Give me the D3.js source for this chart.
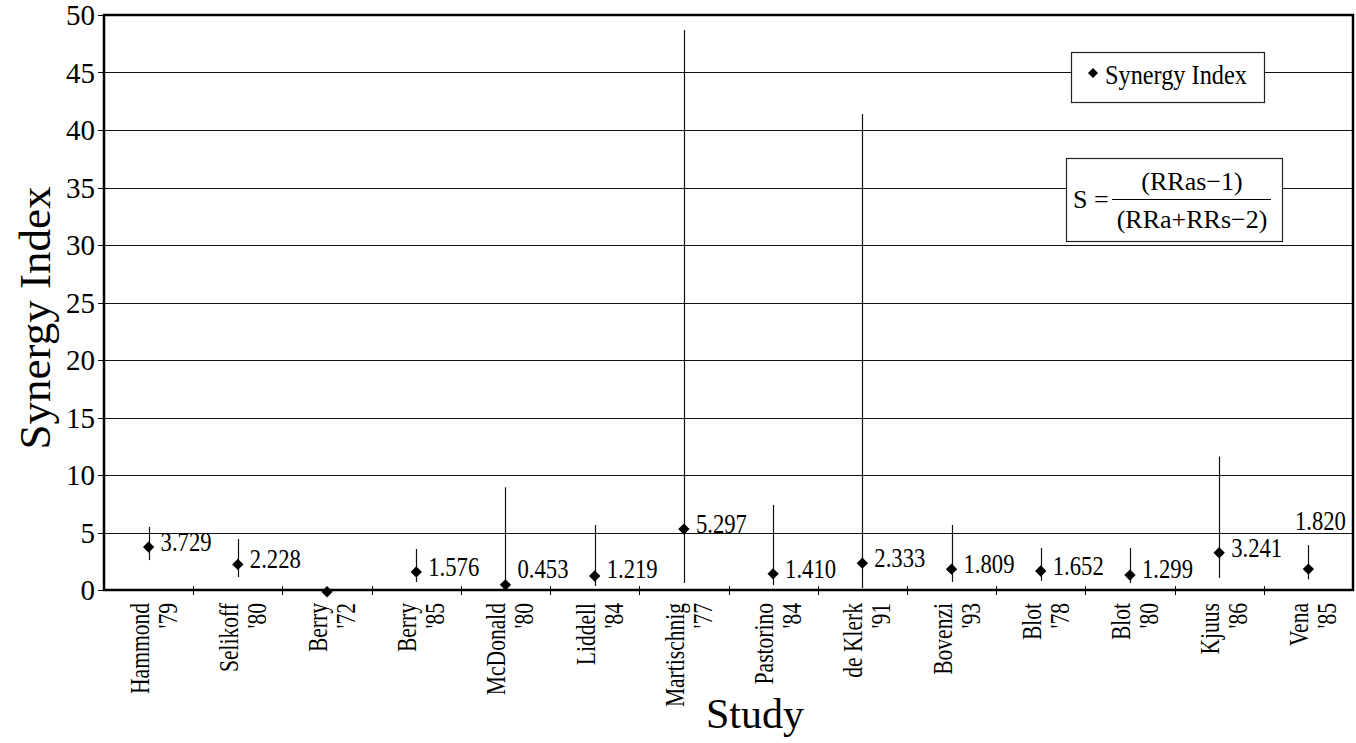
<!DOCTYPE html>
<html>
<head>
<meta charset="utf-8">
<script src="https://cdn.jsdelivr.net/npm/d3@7"></script>
<style>
  html, body { margin: 0; padding: 0; background: #fff; }
  svg { display: block; font-family: "Liberation Serif", "Times New Roman", serif; }
</style>
</head>
<body>
<svg id="chart" width="1356" height="743"></svg>
<script>
// Study names and publication years (two-line category labels)
const studies = ["Hammond", "Selikoff", "Berry", "Berry", "McDonald", "Liddell", "Martischnig",
                 "Pastorino", "de Klerk", "Bovenzi", "Blot", "Blot", "Kjuus", "Vena"];
const years   = ["'79", "'80", "'72", "'85", "'80", "'84", "'77",
                 "'84", "'91", "'93", "'78", "'80", "'86", "'85"];

// Synergy index per study, with lower / upper confidence limits
const synergy = [3.729, 2.228, -0.15, 1.576, 0.453, 1.219, 5.297,
                 1.410, 2.333, 1.809, 1.652, 1.299, 3.241, 1.820];
const lower   = [2.6, 1.13, null, 0.7, 0.2, 0.35, 0.6,
                 0.43, 0.17, 0.7, 0.8, 0.6, 1.04, 0.93];
const upper   = [5.48, 4.43, null, 3.57, 8.93, 5.65, 48.7,
                 7.4, 41.4, 5.65, 3.65, 3.65, 11.6, 3.9];
// Which points carry a value label, and where it sits
const labelled = [true, true, false, true, true, true, true,
                  true, true, true, true, true, true, true];
const labelSide = ["right", "right", "right", "right", "right", "right", "right",
                   "right", "right", "right", "right", "right", "right", "above"];

const yTicks = [0, 5, 10, 15, 20, 25, 30, 35, 40, 45, 50];

const svg = d3.select("#chart");
const plot = { left: 104, right: 1353, top: 15, bottom: 590 };

const x = d3.scaleBand()
  .domain(d3.range(studies.length))
  .range([plot.left, plot.right])
  .padding(0);
const y = d3.scaleLinear().domain([0, 50]).range([plot.bottom, plot.top]);
const cx = i => x(i) + x.bandwidth() / 2;
const fmt = d3.format(".3f");

svg.append("rect").attr("width", 1356).attr("height", 743).attr("fill", "#fff");

// horizontal gridlines
svg.append("g")
  .selectAll("line")
  .data(yTicks.filter(t => t > 0 && t < 50))
  .join("line")
  .attr("x1", plot.left).attr("x2", plot.right)
  .attr("y1", d => Math.round(y(d)) + 0.5).attr("y2", d => Math.round(y(d)) + 0.5)
  .attr("stroke", "#111").attr("stroke-width", 1);

// y axis ticks and labels
const yAxis = svg.append("g");
yAxis.selectAll("line")
  .data(yTicks)
  .join("line")
  .attr("x1", plot.left - 6).attr("x2", plot.left)
  .attr("y1", d => Math.round(y(d)) + 0.5).attr("y2", d => Math.round(y(d)) + 0.5)
  .attr("stroke", "#000").attr("stroke-width", 1);
yAxis.selectAll("text")
  .data(yTicks)
  .join("text")
  .attr("x", plot.left - 9)
  .attr("y", d => y(d))
  .attr("dy", "0.35em")
  .attr("text-anchor", "end")
  .attr("font-size", 29)
  .attr("fill", "#000")
  .text(d => d);

// x axis ticks at category boundaries
const xBounds = d3.range(studies.length + 1).map(i => plot.left + i * x.bandwidth());
svg.append("g")
  .selectAll("line")
  .data(xBounds.slice(1, -1))
  .join("line")
  .attr("x1", d => Math.round(d) + 0.5).attr("x2", d => Math.round(d) + 0.5)
  .attr("y1", plot.bottom - 4).attr("y2", plot.bottom + 5)
  .attr("stroke", "#000").attr("stroke-width", 1);

// x category labels (rotated, two lines)
const xLab = svg.append("g")
  .selectAll("g")
  .data(d3.range(studies.length))
  .join("g")
  .attr("transform", i => `translate(${cx(i)},603) rotate(-90) scale(0.77,1)`);
xLab.append("text")
  .attr("x", 0).attr("y", 0)
  .attr("text-anchor", "end")
  .attr("font-size", 28)
  .text(i => studies[i]);
xLab.append("text")
  .attr("x", 0).attr("y", 28)
  .attr("text-anchor", "end")
  .attr("font-size", 28)
  .text(i => years[i]);

// legend boxes
const legend = svg.append("g");
legend.append("rect")
  .attr("x", 1071.5).attr("y", 52.5).attr("width", 193).attr("height", 50)
  .attr("fill", "#fff").attr("stroke", "#222").attr("stroke-width", 1.2);
legend.append("path")
  .attr("d", d3.symbol(d3.symbolSquare, 50))
  .attr("transform", "translate(1093,73) rotate(45)")
  .attr("fill", "#000");
legend.append("text")
  .attr("transform", "translate(1105,84) scale(0.9,1)")
  .attr("font-size", 27)
  .text("Synergy Index");

const formula = svg.append("g");
formula.append("rect")
  .attr("x", 1066.5).attr("y", 158.5).attr("width", 216).attr("height", 83)
  .attr("fill", "#fff").attr("stroke", "#222").attr("stroke-width", 1.2);
formula.append("text")
  .attr("x", 1073).attr("y", 208)
  .attr("font-size", 26)
  .text("S =");
formula.append("text")
  .attr("x", 1192).attr("y", 190)
  .attr("text-anchor", "middle")
  .attr("font-size", 26)
  .text("(RRas\u22121)");
formula.append("line")
  .attr("x1", 1112).attr("x2", 1271).attr("y1", 199.5).attr("y2", 199.5)
  .attr("stroke", "#000").attr("stroke-width", 1);
formula.append("text")
  .attr("x", 1192).attr("y", 228)
  .attr("text-anchor", "middle")
  .attr("font-size", 26)
  .text("(RRa+RRs\u22122)");

// error bars
svg.append("g")
  .selectAll("line")
  .data(d3.range(studies.length).filter(i => lower[i] !== null))
  .join("line")
  .attr("x1", i => Math.round(cx(i)) + 0.5).attr("x2", i => Math.round(cx(i)) + 0.5)
  .attr("y1", i => y(lower[i])).attr("y2", i => y(upper[i]))
  .attr("stroke", "#111").attr("stroke-width", 1.2);

// frame
svg.append("rect")
  .attr("x", plot.left).attr("y", plot.top)
  .attr("width", plot.right - plot.left).attr("height", plot.bottom - plot.top)
  .attr("fill", "none").attr("stroke", "#000").attr("stroke-width", 2.5);

// diamond markers
svg.append("g")
  .selectAll("path")
  .data(d3.range(studies.length))
  .join("path")
  .attr("d", d3.symbol(d3.symbolSquare, 64))
  .attr("transform", i => `translate(${cx(i)},${y(synergy[i])}) rotate(45)`)
  .attr("fill", "#000");

// value labels, kept clear of the category axis
svg.append("g")
  .selectAll("text")
  .data(d3.range(studies.length).filter(i => labelled[i]))
  .join("text")
  .attr("transform", i => labelSide[i] === "above"
    ? `translate(${cx(i) + 12},${y(upper[i]) - 15}) scale(0.84,1)`
    : `translate(${cx(i) + 12},${Math.min(y(synergy[i]) + 4, plot.bottom - 12)}) scale(0.84,1)`)
  .attr("text-anchor", i => labelSide[i] === "above" ? "middle" : "start")
  .attr("font-size", 27)
  .text(i => fmt(synergy[i]));

// axis titles
svg.append("text")
  .attr("transform", "translate(50,318) rotate(-90)")
  .attr("text-anchor", "middle")
  .attr("font-size", 45)
  .text("Synergy Index");
svg.append("text")
  .attr("x", 755).attr("y", 728)
  .attr("text-anchor", "middle")
  .attr("font-size", 42)
  .text("Study");
</script>
</body>
</html>
